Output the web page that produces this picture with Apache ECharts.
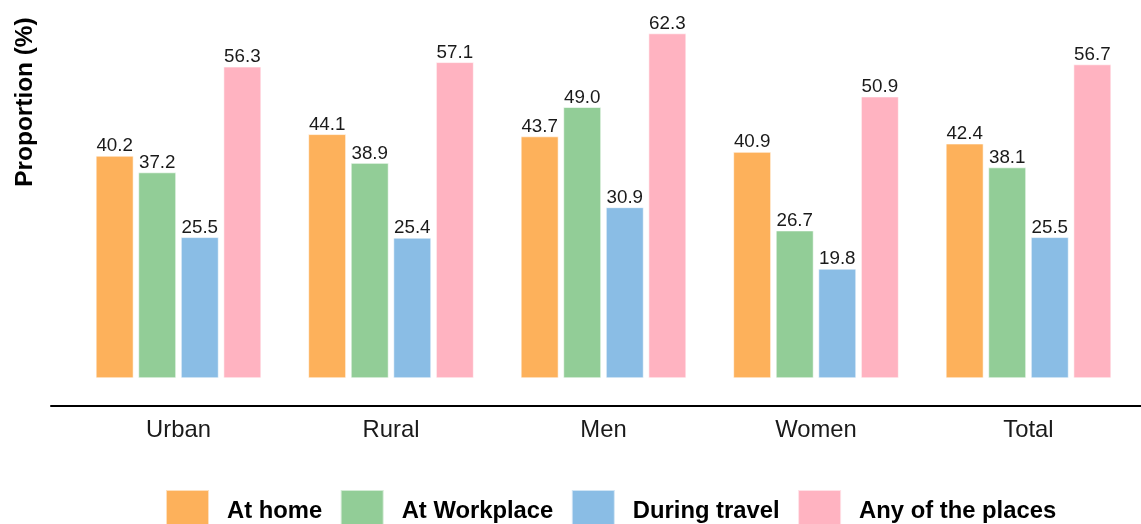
<!DOCTYPE html>
<html>
<head>
<meta charset="utf-8">
<script src="https://cdn.jsdelivr.net/npm/echarts@6/dist/echarts.min.js"></script>
<style>
html,body{margin:0;padding:0;background:#fff;}
#chart{width:1141px;height:524px;}
</style>
</head>
<body>
<div id="chart"></div>
<script>
var categories = ['Urban', 'Rural', 'Men', 'Women', 'Total'];
var seriesNames = ['At home', 'At Workplace', 'During travel', 'Any of the places'];
var atHome = [40.2, 44.1, 43.7, 40.9, 42.4];
var atWorkplace = [37.2, 38.9, 49.0, 26.7, 38.1];
var duringTravel = [25.5, 25.4, 30.9, 19.8, 25.5];
var anyPlace = [56.3, 57.1, 62.3, 50.9, 56.7];
var colors = ['#FDB15B', '#92CD97', '#8ABDE5', '#FFB3C1'];

var FONT = "'Liberation Sans', Arial, Helvetica, sans-serif";
var chart = echarts.init(document.getElementById('chart'), null, {renderer: 'canvas'});

var values = [atHome, atWorkplace, duringTravel, anyPlace];
var series = values.map(function (d, i) {
  return {
    name: seriesNames[i],
    type: 'bar',
    xAxisIndex: 0,
    yAxisIndex: 0,
    data: d,
    barWidth: 38,
    barGap: '12%',
    itemStyle: {color: colors[i], borderColor: 'rgba(255,255,255,0.6)', borderWidth: 1},
    label: {
      show: true,
      position: 'top',
      distance: 0,
      color: '#1a1a1a',
      fontFamily: FONT,
      fontSize: 18.8,
      formatter: function (p) { return p.value.toFixed(1); }
    }
  };
});

chart.setOption({
  animation: false,
  backgroundColor: '#ffffff',
  grid: [
    {left: 72.25, width: 1062.5, top: 0, height: 405.7},
    {left: 51, right: 0, top: 0, height: 405.7}
  ],
  xAxis: [
    {
      type: 'category', gridIndex: 0, data: categories,
      axisLine: {show: false}, axisTick: {show: false},
      axisLabel: {color: '#1a1a1a', fontFamily: FONT, fontSize: 23.8, margin: 13}
    },
    {
      type: 'value', gridIndex: 1, min: 0, max: 1,
      axisLine: {show: true, lineStyle: {color: '#000', width: 2}},
      axisTick: {show: false}, axisLabel: {show: false}, splitLine: {show: false}
    }
  ],
  yAxis: [
    {type: 'value', gridIndex: 0, min: -4.95, max: 68.31, show: false},
    {type: 'value', gridIndex: 1, min: 0, max: 1, show: false}
  ],
  legend: {
    left: 165,
    top: 489,
    padding: 0,
    itemWidth: 43,
    itemHeight: 43,
    itemGap: 17.5,
    icon: 'rect',
    data: seriesNames,
    textStyle: {color: '#000', fontFamily: FONT, fontSize: 23.8, fontWeight: 'bold', padding: [0, 0, 0, 13]}
  },
  graphic: [{
    type: 'text',
    x: 25, y: 102,
    rotation: Math.PI / 2,
    style: {text: 'Proportion (%)', font: 'bold 24.4px ' + FONT, fill: '#000', align: 'center', verticalAlign: 'middle'}
  }],
  series: series
});
</script>
</body>
</html>
